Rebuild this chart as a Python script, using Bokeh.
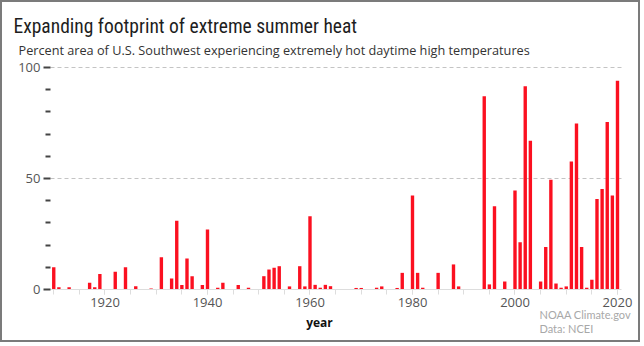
from bokeh.plotting import figure
from bokeh.models import Range1d, FixedTicker, Label
from bokeh.embed import file_html
from bokeh.resources import INLINE

# ---- data ----
years = [1910, 1911, 1913, 1917, 1918, 1919, 1922, 1924, 1926, 1929,
         1931, 1933, 1934, 1935, 1936, 1937, 1939, 1940, 1942, 1943,
         1946, 1948, 1951, 1952, 1953, 1954, 1956, 1958, 1959, 1960,
         1961, 1962, 1963, 1964, 1969, 1970, 1973, 1974, 1977, 1978,
         1980, 1981, 1982, 1985, 1988, 1989, 1994, 1995, 1996, 1998,
         2000, 2001, 2002, 2003, 2005, 2006, 2007, 2008, 2009, 2010,
         2011, 2012, 2013, 2014, 2015, 2016, 2017, 2018, 2019, 2020]
percent = [10, 1, 1, 3, 1, 7, 8, 10, 1.5, 0.5,
           14.5, 5, 31, 2, 14, 6, 2, 27, 0.8, 3,
           2, 0.8, 6, 9, 9.8, 10.5, 1.4, 10.5, 1.4, 33,
           2.1, 0.8, 2.1, 1.5, 0.7, 0.7, 0.8, 1.4, 0.7, 7.5,
           42.3, 7.5, 0.8, 7.5, 11.3, 1.4, 87, 2.3, 37.5, 3.6,
           44.6, 21.3, 91.6, 67, 3.6, 19.1, 49.4, 2.7, 0.8, 1.4,
           57.7, 74.8, 19.1, 0.8, 4.4, 40.8, 45.3, 75.5, 42.3, 94]
x_major_ticks = [1920, 1940, 1960, 1980, 2000, 2020]
x_minor_ticks = list(range(1910, 2021, 5))
y_major_ticks = [0, 50, 100]
y_minor_ticks = [10, 20, 30, 40, 60, 70, 80, 90]
grid_ticks = [50, 100]

title_text = "Expanding footprint of extreme summer heat"
subtitle_text = "Percent area of U.S. Southwest experiencing extremely hot daytime high temperatures"
xlabel_text = "year"
credit1 = "NOAA Climate.gov"
credit2 = "Data: NCEI"

# visible data window of the bar area
X0, X1 = 1909.36, 2020.78

# whole canvas is the frame; axes are pinned at fixed locations
p = figure(width=640, height=342, output_backend="svg", toolbar_location=None,
           x_range=Range1d(1900.0, 2024.88), y_range=Range1d(-24.77, 129.28),
           min_border=0)
p.styles = {"border": "2px solid #7b7b7b"}
p.outline_line_color = None
p.background_fill_color = "white"
p.border_fill_color = "white"

# grid
p.xgrid.visible = False
yg = p.ygrid[0]
yg.ticker = FixedTicker(ticks=grid_ticks)
yg.grid_line_color = "#c4c4c4"
yg.grid_line_dash = "4 3"
yg.grid_line_width = 1
if "cross_bounds" in yg.properties():
    yg.cross_bounds = (X0, X1)
else:
    yg.visible = False
    p.segment(x0=[X0] * len(grid_ticks), x1=[X1] * len(grid_ticks),
              y0=grid_ticks, y1=grid_ticks, line_color="#c4c4c4",
              line_dash="4 3", line_width=1)

p.vbar(x=years, top=percent, width=0.66, bottom=0,
       fill_color="#fb1020", line_color=None)

# y axis
ya = p.yaxis[0]
ya.fixed_location = X0
ya.ticker = FixedTicker(ticks=y_major_ticks, minor_ticks=y_minor_ticks)
ya.axis_line_color = None
ya.major_tick_in = 0
ya.major_tick_out = 7
ya.minor_tick_in = 0
ya.minor_tick_out = 5
ya.major_tick_line_color = "#444444"
ya.minor_tick_line_color = "#444444"
ya.major_tick_line_width = 2
ya.minor_tick_line_width = 2
ya.major_label_standoff = 3
ya.major_label_text_font = "Open Sans"
ya.major_label_text_font_size = "13px"
ya.major_label_text_color = "#555555"

# x axis
xa = p.xaxis[0]
xa.fixed_location = 0
xa.bounds = (X0, X1)
xa.ticker = FixedTicker(ticks=x_major_ticks, minor_ticks=x_minor_ticks)
xa.axis_line_color = "#dddddd"
xa.axis_line_width = 1
xa.major_tick_in = 0
xa.major_tick_out = 5
xa.minor_tick_in = 0
xa.minor_tick_out = 5
xa.major_tick_line_color = "#dddddd"
xa.minor_tick_line_color = "#dddddd"
xa.major_label_standoff = 3
xa.major_label_text_font = "Open Sans"
xa.major_label_text_font_size = "13px"
xa.major_label_text_color = "#555555"

# texts (screen units, origin at the bottom-left of the canvas)
p.add_layout(Label(x=11, y=318, x_units="screen", y_units="screen",
                   text=title_text,
                   text_font="Roboto Condensed, DejaVu Sans Condensed, Liberation Sans Narrow, Roboto",
                   text_font_size="19.5px", text_color="#1e1e1e",
                   text_baseline="alphabetic", text_align="left"))
p.add_layout(Label(x=16, y=295, x_units="screen", y_units="screen",
                   text=subtitle_text, text_font="Open Sans",
                   text_font_size="12.7px", text_color="#333333",
                   text_baseline="alphabetic", text_align="left"))
p.add_layout(Label(x=317, y=22, x_units="screen", y_units="screen",
                   text=xlabel_text, text_font="Open Sans",
                   text_font_size="12px", text_font_style="bold",
                   text_color="#111111", text_baseline="middle",
                   text_align="center"))
p.add_layout(Label(x=537, y=30, x_units="screen", y_units="screen",
                   text=credit1, text_font="Lato",
                   text_font_size="11px", text_color="#a8a8a8",
                   text_baseline="alphabetic", text_align="left"))
p.add_layout(Label(x=537, y=16, x_units="screen", y_units="screen",
                   text=credit2, text_font="Lato",
                   text_font_size="11px", text_color="#a8a8a8",
                   text_baseline="alphabetic", text_align="left"))

open("out.html", "w").write(file_html(p, INLINE))
